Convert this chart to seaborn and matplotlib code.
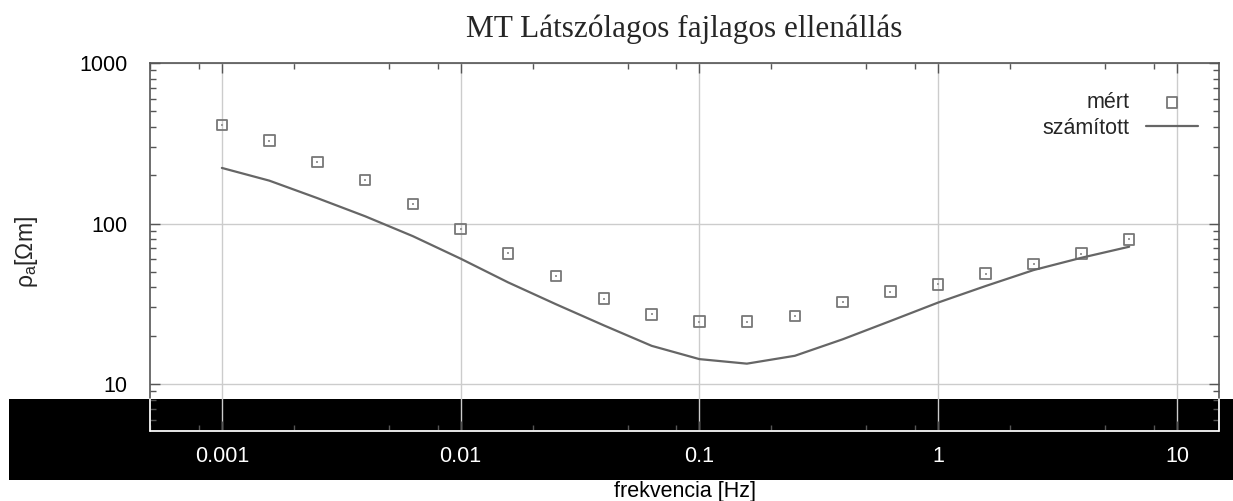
import numpy as np
import pandas as pd
import matplotlib
matplotlib.use("Agg")
import matplotlib.pyplot as plt
from matplotlib.patches import Rectangle
from matplotlib.ticker import LogLocator, FixedLocator, FixedFormatter, NullFormatter
import seaborn as sns

# Frequencies (Hz): five per decade from 0.001 to 6.31
frekvencia = [0.001, 0.00158, 0.00251, 0.00398, 0.00631,
              0.01, 0.0158, 0.0251, 0.0398, 0.0631,
              0.1, 0.158, 0.251, 0.398, 0.631,
              1.0, 1.58, 2.51, 3.98, 6.31]
# Measured apparent resistivity (Ohm m)
mert = [412, 329, 242, 187, 132, 92.7, 65.2, 47.1, 34.0, 27.2,
        24.5, 24.5, 26.5, 32.4, 37.6, 41.8, 48.7, 55.9, 65.0, 79.6]
# Model response (Ohm m)
szamitott = [222, 185, 144, 111, 83.4, 60.4, 43.0, 31.4, 23.2, 17.3,
             14.3, 13.4, 15.0, 19.0, 24.7, 32.2, 40.8, 51.3, 61.2, 71.7]

x_ticks = [0.001, 0.01, 0.1, 1, 10]
x_tick_labels = ["0.001", "0.01", "0.1", "1", "10"]
y_ticks = [10, 100, 1000]
y_tick_labels = ["10", "100", "1000"]

df = pd.DataFrame({"f": frekvencia, "mert": mert, "szamitott": szamitott})

sns.set_style("ticks")
plt.rcParams["font.family"] = ["Liberation Sans", "DejaVu Sans"]
plt.rcParams["mathtext.fontset"] = "custom"
plt.rcParams["mathtext.rm"] = "Liberation Sans"
plt.rcParams["mathtext.it"] = "Liberation Sans"

FS = 15.5
W, H = 1233, 501
fig = plt.figure(figsize=(W / 100, H / 100), dpi=100, facecolor="white")
ax = fig.add_axes([150 / W, 1 - 431 / H, (1219 - 150) / W, (431 - 63) / H])
ax.set_facecolor("none")

# dark strip across the lower part of the figure
band_lo, band_hi = 1 - 480 / H, 1 - 399 / H
fig.patches.append(Rectangle((9 / W, band_lo), 1 - 9 / W, band_hi - band_lo,
                             transform=fig.transFigure, facecolor="black",
                             edgecolor="none", zorder=-1))

spine_col = "#555555"
sns.scatterplot(data=df, x="f", y="mert", ax=ax, marker="s", s=58,
                facecolor="none", edgecolor="#777777", linewidth=1.3,
                label="mért", zorder=3)
sns.scatterplot(data=df, x="f", y="mert", ax=ax, marker="s", s=1.5,
                color="#999999", linewidth=0, legend=False, zorder=3)
sns.lineplot(data=df, x="f", y="szamitott", ax=ax, color="#666666",
             linewidth=1.6, label="számított", zorder=3)

ax.set_xscale("log")
ax.set_yscale("log")
ax.set_xlim(0.0005, 15)
ax.set_ylim(5.1, 1000)

ax.xaxis.set_major_locator(FixedLocator(x_ticks))
ax.xaxis.set_major_formatter(FixedFormatter(x_tick_labels))
ax.xaxis.set_minor_locator(LogLocator(base=10, subs=[2, 5, 8]))
ax.xaxis.set_minor_formatter(NullFormatter())
ax.yaxis.set_major_locator(FixedLocator(y_ticks))
ax.yaxis.set_major_formatter(FixedFormatter(y_tick_labels))
ax.yaxis.set_minor_locator(LogLocator(base=10, subs=np.arange(2, 10)))
ax.yaxis.set_minor_formatter(NullFormatter())

ax.grid(True, which="major", color="#cccccc", linewidth=1.0)
ax.tick_params(which="both", direction="in", top=True, right=True,
               color=spine_col, width=1.0)
ax.tick_params(which="major", length=7, labelsize=FS)
ax.tick_params(which="minor", length=4)
ax.tick_params(axis="x", which="major", labelcolor="white", pad=11)
ax.tick_params(axis="y", which="major", labelcolor="black", pad=16)
for sp in ax.spines.values():
    sp.set_color(spine_col)
    sp.set_linewidth(1.2)

ax.set_xlabel("frekvencia [Hz]", fontsize=FS, color="black", labelpad=10)
ax.set_ylabel(r"$\rho_{\mathregular{a}}$[Ωm]", fontsize=16.5)
ax.yaxis.set_label_coords(40 / W, 1 - 252 / H, transform=fig.transFigure)
fig.text(684 / W, 1 - 29 / H, "MT Látszólagos fajlagos ellenállás",
         ha="center", va="center", fontsize=22.5, family="Liberation Serif")

ax.legend(loc="upper right", bbox_to_anchor=(1198 / W, 1 - 92 / H),
          bbox_transform=fig.transFigure, frameon=False,
          markerfirst=False, fontsize=FS, handlelength=2.4,
          handletextpad=0.8, labelspacing=0.22, borderpad=0,
          borderaxespad=0)

# axis lines and ticks inside the dark strip are drawn in white
fig.canvas.draw()
y0, y1 = ax.get_position().y0, ax.get_position().y1
yb = (band_hi - y0) / (y1 - y0)
for xs in (0, 1):
    ax.plot([xs, xs], [0, yb], transform=ax.transAxes, color="white",
            linewidth=1.2, clip_on=False, zorder=5)
ax.plot([0, 1], [0, 0], transform=ax.transAxes, color="white",
        linewidth=1.2, clip_on=False, zorder=5)

ylo, yhi = np.log10(ax.get_ylim())
band_val = 10 ** (ylo + yb * (yhi - ylo))
fig.canvas.draw()
for t in ax.xaxis.get_major_ticks() + ax.xaxis.get_minor_ticks():
    t.tick1line.set_color("white")
for t in ax.yaxis.get_major_ticks() + ax.yaxis.get_minor_ticks():
    if t.get_loc() < band_val:
        t.tick1line.set_color("white")
        t.tick2line.set_color("white")

fig.savefig("out.png", dpi=100, facecolor="white")
